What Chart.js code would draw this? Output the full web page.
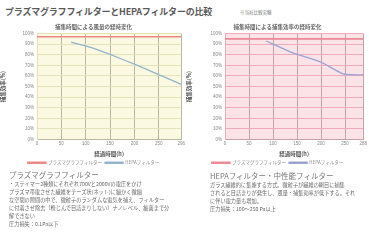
<!DOCTYPE html>
<html><head><meta charset="utf-8">
<script src="https://cdn.jsdelivr.net/npm/chart.js@4"></script>
<style>
body{margin:0;width:369px;height:244px;background:#fff;overflow:hidden;position:relative;font-family:"Noto Sans CJK JP",sans-serif;}
#title{position:absolute;left:5px;top:5px;font-size:9px;font-weight:bold;color:#5a5a5a;white-space:nowrap;letter-spacing:-0.2px;}
#note{position:absolute;left:240px;top:9px;font-size:4.5px;color:#777;white-space:nowrap;}
.box{position:absolute;top:22px;height:153px;}
.txt{position:absolute;color:#666;white-space:nowrap;}
.txt .h{font-size:7.5px;line-height:11px;color:#777;}
.txt .l{font-size:5.2px;line-height:8px;}
</style></head><body>
<div id="title">プラズマグラフフィルターとHEPAフィルターの比較</div>
<div id="note">※当社比較実験</div>
<div class="box" style="left:0;width:187px;"><canvas id="c1"></canvas></div>
<div class="box" style="left:186px;width:183px;"><canvas id="c2"></canvas></div>
<div class="txt" style="left:9px;top:169px;">
<div class="h">プラズマグラフフィルター</div>
<div class="l">・ステイマー2種類にそれぞれ700Vと2000Vの電圧をかけ</div>
<div class="l">プラズマ帯電させた繊維をチーズ状(ネット)に細かく微細</div>
<div class="l">な空間の隙間の中で、微粒子のランダムな電気を捕え、フィルター</div>
<div class="l">に付着させ除去（粉じんで目詰まりしない）ナノレベル、細菌まで分</div>
<div class="l">解できない</div>
<div class="l">圧力損失：0.1Pa以下</div>
</div>
<div class="txt" style="left:210px;top:170px;">
<div class="h">HEPAフィルター・中性能フィルター</div>
<div class="l">ガラス繊維的に集塵する方式。微粒子が繊維の網目に捕集</div>
<div class="l">されると目詰まりが発生し、風量・捕集効率が低下する。それ</div>
<div class="l">に伴い電力量も増加。</div>
<div class="l">圧力損失：100～250 Pa以上</div>
</div>
<script>
const seriesNames = ["プラズマグラフフィルター", "HEPAフィルター"];
const xTitle = "経過時間(h)";
const yTitle = "捕集効率(%)";
const subtitles = ["捕集時間による風量の経時変化", "捕集時間による捕集効率の経時変化"];
// left chart
const leftPlasmaX = [0, 296];
const leftPlasmaY = [97, 97];
const leftHepaX = [70, 110, 146, 206, 256, 296];
const leftHepaY = [92, 87, 81, 70, 60, 52];
// right chart
const rightPlasmaX = [0, 288];
const rightPlasmaY = [95, 95];
const rightHepaX = [86, 140, 200, 246, 288];
const rightHepaY = [93, 82, 73, 62, 61];

function pts(xs, ys){ return xs.map((x,i)=>({x:x, y:ys[i]})); }

const bgPlugin = {
  id:'bg',
  beforeDraw(chart, args, opts){
    const a = chart.chartArea, ctx = chart.ctx;
    ctx.save(); ctx.fillStyle = opts.color; ctx.fillRect(a.left, a.top, a.right-a.left, a.bottom-a.top); ctx.restore();
  }
};

function make(id, sub, plasma, hepa, xmax, yw, bg, hgrid, vgrid, red, blue){
  return new Chart(document.getElementById(id), {
    type:'line',
    data:{datasets:[
      {label:seriesNames[0], data:plasma, borderColor:red, backgroundColor:red, borderWidth:1.6, pointRadius:0, tension:0},
      {label:seriesNames[1], data:hepa, borderColor:blue, backgroundColor:blue, borderWidth:1.3, pointRadius:0, tension:0.2}
    ]},
    options:{
      responsive:true, maintainAspectRatio:false, animation:false, devicePixelRatio:1,
      layout:{padding:{top:2,right:0,left:0,bottom:0}},
      plugins:{
        bg:{color:bg},
        title:{display:true, text:sub, color:'#666', font:{size:5.5, weight:'bold', family:'Noto Sans CJK JP'}, padding:{top:0,bottom:3}},
        legend:{position:'bottom', labels:{boxWidth:18, boxHeight:1, font:{size:4.5, family:'Noto Sans CJK JP'}, color:'#888', padding:3}},
        tooltip:{enabled:false}
      },
      scales:{
        x:{type:'linear', min:0, max:xmax,
           ticks:{stepSize:50, font:{size:4.5}, color:'#888', padding:2},
           grid:{color:vgrid, lineWidth:1, drawTicks:false},
           border:{color:vgrid},
           title:{display:true, text:xTitle, color:'#555', font:{size:5.5, weight:'bold', family:'Noto Sans CJK JP'}, padding:{top:2,bottom:0}}},
        y:{min:0, max:100,
           ticks:{stepSize:10, font:{size:4.5}, color:'#888', padding:3, callback:v=>v+'%'},
           grid:{color:hgrid, lineWidth:1, drawTicks:false},
           border:{color:hgrid},
           title:{display:true, text:yTitle, color:'#555', font:{size:5.5, weight:'bold', family:'Noto Sans CJK JP'}, padding:{top:0,bottom:2}},
           afterFit(s){ s.width = yw; }}
      }
    },
    plugins:[bgPlugin]
  });
}
make('c1', subtitles[0], pts(leftPlasmaX,leftPlasmaY), pts(leftHepaX,leftHepaY), 296, 37,
     '#fbf9e2', '#e4e2b8', '#b9b8a4', '#e98a86', '#94b4cc');
make('c2', subtitles[1], pts(rightPlasmaX,rightPlasmaY), pts(rightHepaX,rightHepaY), 288, 39,
     '#fce3e8', '#efaabb', '#c8a2aa', '#e98a96', '#9aa4d4');
</script>
</body></html>
